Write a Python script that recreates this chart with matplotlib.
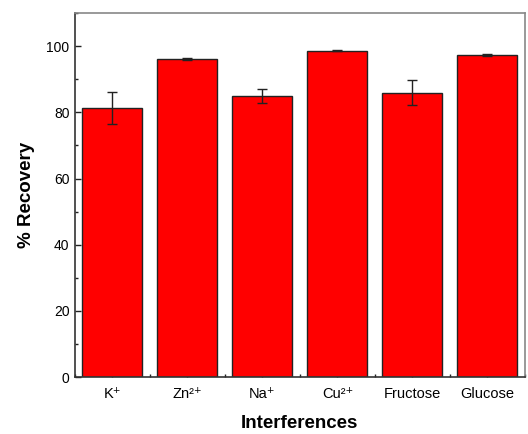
import matplotlib
matplotlib.use("Agg")
import matplotlib.pyplot as plt
from matplotlib.ticker import MultipleLocator

# values
categories = ["K⁺", "Zn²⁺", "Na⁺", "Cu²⁺", "Fructose", "Glucose"]
recovery = [81.3, 96.1, 84.9, 98.6, 85.9, 97.3]
errors = [4.8, 0.3, 2.0, 0.15, 3.8, 0.4]

plt.rcParams["font.family"] = ["Liberation Sans", "DejaVu Sans"]

fig = plt.figure(figsize=(5.28, 4.34), dpi=100)
ax = fig.add_axes([0.142, 0.131, 0.852, 0.839])

x = list(range(1, len(categories) + 1))
ax.bar(x, recovery, width=0.8, color="#ff0000", edgecolor="#222222", linewidth=1.0,
       yerr=errors, capsize=3.5, error_kw=dict(ecolor="#222222", elinewidth=1.0, capthick=1.0),
       zorder=2)

ax.set_xlim(0.5, 6.5)
ax.set_ylim(0, 110)
ax.set_xticks(x)
ax.set_xticklabels(categories)
ax.xaxis.set_minor_locator(MultipleLocator(1, offset=0.5))
ax.yaxis.set_major_locator(MultipleLocator(20))
ax.yaxis.set_minor_locator(MultipleLocator(10))
ax.tick_params(axis="both", which="major", direction="in", length=4, width=1, labelsize=10.5,
               color="#222222", zorder=3)
ax.tick_params(axis="y", which="major", labelsize=10)
ax.tick_params(axis="both", which="minor", direction="in", length=2, width=1, color="#222222")
ax.tick_params(axis="x", which="major", pad=7)
ax.tick_params(axis="y", which="major", pad=4)

for side in ("left", "bottom"):
    ax.spines[side].set_color("#333333")
    ax.spines[side].set_linewidth(1.2)
for side in ("top", "right"):
    ax.spines[side].set_color("#888888")
    ax.spines[side].set_linewidth(1.2)

ax.set_ylabel("% Recovery", fontsize=13.5, fontweight="bold", labelpad=8)
ax.set_xlabel("Interferences", fontsize=13.5, fontweight="bold", labelpad=10)

fig.savefig("out.png", dpi=100)
